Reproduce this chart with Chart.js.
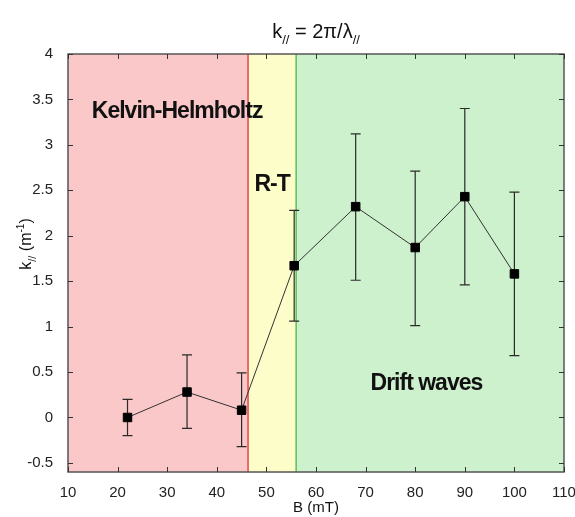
<!DOCTYPE html>
<html>
<head>
<meta charset="utf-8">
<script src="https://cdn.jsdelivr.net/npm/chart.js@4"></script>
<style>
html, body { margin: 0; padding: 0; background: #fff; }
#wrap { width: 575px; height: 517px; }
</style>
</head>
<body>
<div id="wrap"><canvas id="grafico" width="575" height="517"></canvas></div>
<script>
// Dados
const campoB = [22, 34, 45, 55.6, 68, 80, 90, 100];
const kPar = [0, 0.28, 0.08, 1.67, 2.32, 1.87, 2.43, 1.58];
const erroInf = [0.2, 0.4, 0.4, 0.61, 0.81, 0.86, 0.97, 0.9];
const erroSup = [0.2, 0.41, 0.41, 0.61, 0.8, 0.84, 0.97, 0.9];
const limitesRegioes = [10, 46.3, 56, 110];
const nomesRegioes = ['Kelvin-Helmholtz', 'R-T', 'Drift waves'];
const ticksX = [10, 20, 30, 40, 50, 60, 70, 80, 90, 100, 110];
const ticksY = [-0.5, 0, 0.5, 1, 1.5, 2, 2.5, 3, 3.5, 4];

const FONTE = '"Liberation Sans", Arial, sans-serif';
const coresRegioes = ['#fac8c8', '#fdfdc9', '#cdf0cd'];
const coresLinhas = ['#e5434c', '#5cbf5c'];
// posição dos nomes (em coordenadas de dados: B, k)
const posNomes = [[14.8, 3.3], [47.6, 2.49], [71.0, 0.3]];

// Fundo colorido, linhas de separação e barras de erro
const pluginFundo = {
    id: 'fundo',
    beforeDatasetsDraw(chart) {
        const { ctx, chartArea: a, scales: { x, y } } = chart;
        ctx.save();
        for (let i = 0; i < coresRegioes.length; i++) {
            const x0 = x.getPixelForValue(limitesRegioes[i]);
            const x1 = x.getPixelForValue(limitesRegioes[i + 1]);
            ctx.fillStyle = coresRegioes[i];
            ctx.fillRect(x0, a.top, x1 - x0, a.bottom - a.top);
        }
        for (let i = 1; i < limitesRegioes.length - 1; i++) {
            const px = x.getPixelForValue(limitesRegioes[i]);
            ctx.strokeStyle = coresLinhas[i - 1];
            ctx.lineWidth = 1.5;
            ctx.beginPath();
            ctx.moveTo(px, a.top);
            ctx.lineTo(px, a.bottom);
            ctx.stroke();
        }
        // nomes das regiões
        ctx.fillStyle = '#111';
        ctx.font = 'bold 23px ' + FONTE;
        ctx.letterSpacing = '-1px';
        ctx.textBaseline = 'alphabetic';
        ctx.textAlign = 'left';
        nomesRegioes.forEach((nome, i) => {
            ctx.fillText(nome, x.getPixelForValue(posNomes[i][0]), y.getPixelForValue(posNomes[i][1]));
        });
        ctx.letterSpacing = '0px';
        // barras de erro
        ctx.strokeStyle = '#2a2a2a';
        ctx.lineWidth = 1.2;
        campoB.forEach((b, i) => {
            const px = x.getPixelForValue(b);
            const yTop = y.getPixelForValue(kPar[i] + erroSup[i]);
            const yBot = y.getPixelForValue(kPar[i] - erroInf[i]);
            ctx.beginPath();
            ctx.moveTo(px, yTop); ctx.lineTo(px, yBot);
            ctx.moveTo(px - 5, yTop); ctx.lineTo(px + 5, yTop);
            ctx.moveTo(px - 5, yBot); ctx.lineTo(px + 5, yBot);
            ctx.stroke();
        });
        ctx.restore();
    },
    afterDatasetsDraw(chart) {
        const { ctx, chartArea: a, scales: { x, y } } = chart;
        ctx.save();
        // caixa dos eixos
        ctx.strokeStyle = '#555';
        ctx.lineWidth = 1.5;
        ctx.strokeRect(a.left, a.top, a.right - a.left, a.bottom - a.top);
        // marcas para dentro, nos quatro lados
        ctx.strokeStyle = '#333';
        ctx.lineWidth = 1;
        ctx.beginPath();
        ticksX.forEach(v => {
            const px = Math.round(x.getPixelForValue(v)) + 0.5;
            ctx.moveTo(px, a.bottom); ctx.lineTo(px, a.bottom - 5);
            ctx.moveTo(px, a.top); ctx.lineTo(px, a.top + 5);
        });
        ticksY.forEach(v => {
            const py = Math.round(y.getPixelForValue(v)) + 0.5;
            ctx.moveTo(a.left, py); ctx.lineTo(a.left + 5, py);
            ctx.moveTo(a.right, py); ctx.lineTo(a.right - 5, py);
        });
        ctx.stroke();
        ctx.restore();
    },
    afterDraw(chart) {
        const { ctx, chartArea: a } = chart;
        const cx = (a.left + a.right) / 2;
        ctx.save();
        ctx.fillStyle = '#111';
        ctx.textBaseline = 'alphabetic';
        ctx.textAlign = 'left';

        // título: k// = 2π/λ//
        const partesTitulo = [['k', 20, 0], ['//', 13, 6], [' = 2\u03c0/\u03bb', 20, 0], ['//', 13, 6]];
        desenhaPartes(ctx, partesTitulo, cx, 38);

        // rótulo x
        ctx.font = '15px ' + FONTE;
        ctx.textAlign = 'center';
        ctx.fillText('B (mT)', cx, 512);

        // rótulo y: k// (m-1)
        ctx.translate(31, (a.top + a.bottom) / 2 - 19);
        ctx.rotate(-Math.PI / 2);
        const partesY = [['k', 16, 0], ['//', 11, 5], [' (m', 16, 0], ['-1', 10, -7], [')', 16, 0]];
        ctx.textAlign = 'left';
        desenhaPartes(ctx, partesY, 0, 0);
        ctx.restore();
    }
};

// desenha texto com sub/sobrescritos, centrado em cx
function desenhaPartes(ctx, partes, cx, base) {
    let largura = 0;
    partes.forEach(p => {
        ctx.font = p[1] + 'px ' + FONTE;
        largura += ctx.measureText(p[0]).width;
    });
    let px = cx - largura / 2;
    partes.forEach(p => {
        ctx.font = p[1] + 'px ' + FONTE;
        ctx.fillText(p[0], px, base + p[2]);
        px += ctx.measureText(p[0]).width;
    });
}

const ctx = document.getElementById('grafico').getContext('2d');
new Chart(ctx, {
    type: 'line',
    data: {
        datasets: [{
            data: campoB.map((b, i) => ({ x: b, y: kPar[i] })),
            borderColor: '#333',
            borderWidth: 1,
            pointStyle: 'rect',
            pointRadius: 6,
            pointBackgroundColor: '#000',
            pointBorderColor: '#000',
            pointBorderWidth: 1,
            tension: 0
        }]
    },
    options: {
        responsive: false,
        animation: false,
        layout: { padding: { top: 54, right: 11, left: 0, bottom: 0 } },
        plugins: { legend: { display: false }, tooltip: { enabled: false } },
        scales: {
            x: {
                type: 'linear',
                min: 10,
                max: 110,
                afterBuildTicks: s => { s.ticks = ticksX.map(v => ({ value: v })); },
                afterFit: s => { s.height = 45; s.paddingRight = 0; s.paddingLeft = 0; },
                grid: { display: false },
                border: { display: false },
                ticks: {
                    autoSkip: false,
                    maxRotation: 0,
                    padding: 4,
                    color: '#222',
                    font: { family: FONTE, size: 15 },
                    callback: v => String(v)
                }
            },
            y: {
                min: -0.6,
                max: 4,
                afterBuildTicks: s => { s.ticks = ticksY.map(v => ({ value: v })); },
                afterFit: s => { s.width = 68; s.paddingTop = 0; s.paddingBottom = 0; },
                grid: { display: false },
                border: { display: false },
                ticks: {
                    padding: 7,
                    color: '#222',
                    font: { family: FONTE, size: 15 },
                    callback: v => String(v)
                }
            }
        }
    },
    plugins: [pluginFundo]
});
</script>
</body>
</html>
